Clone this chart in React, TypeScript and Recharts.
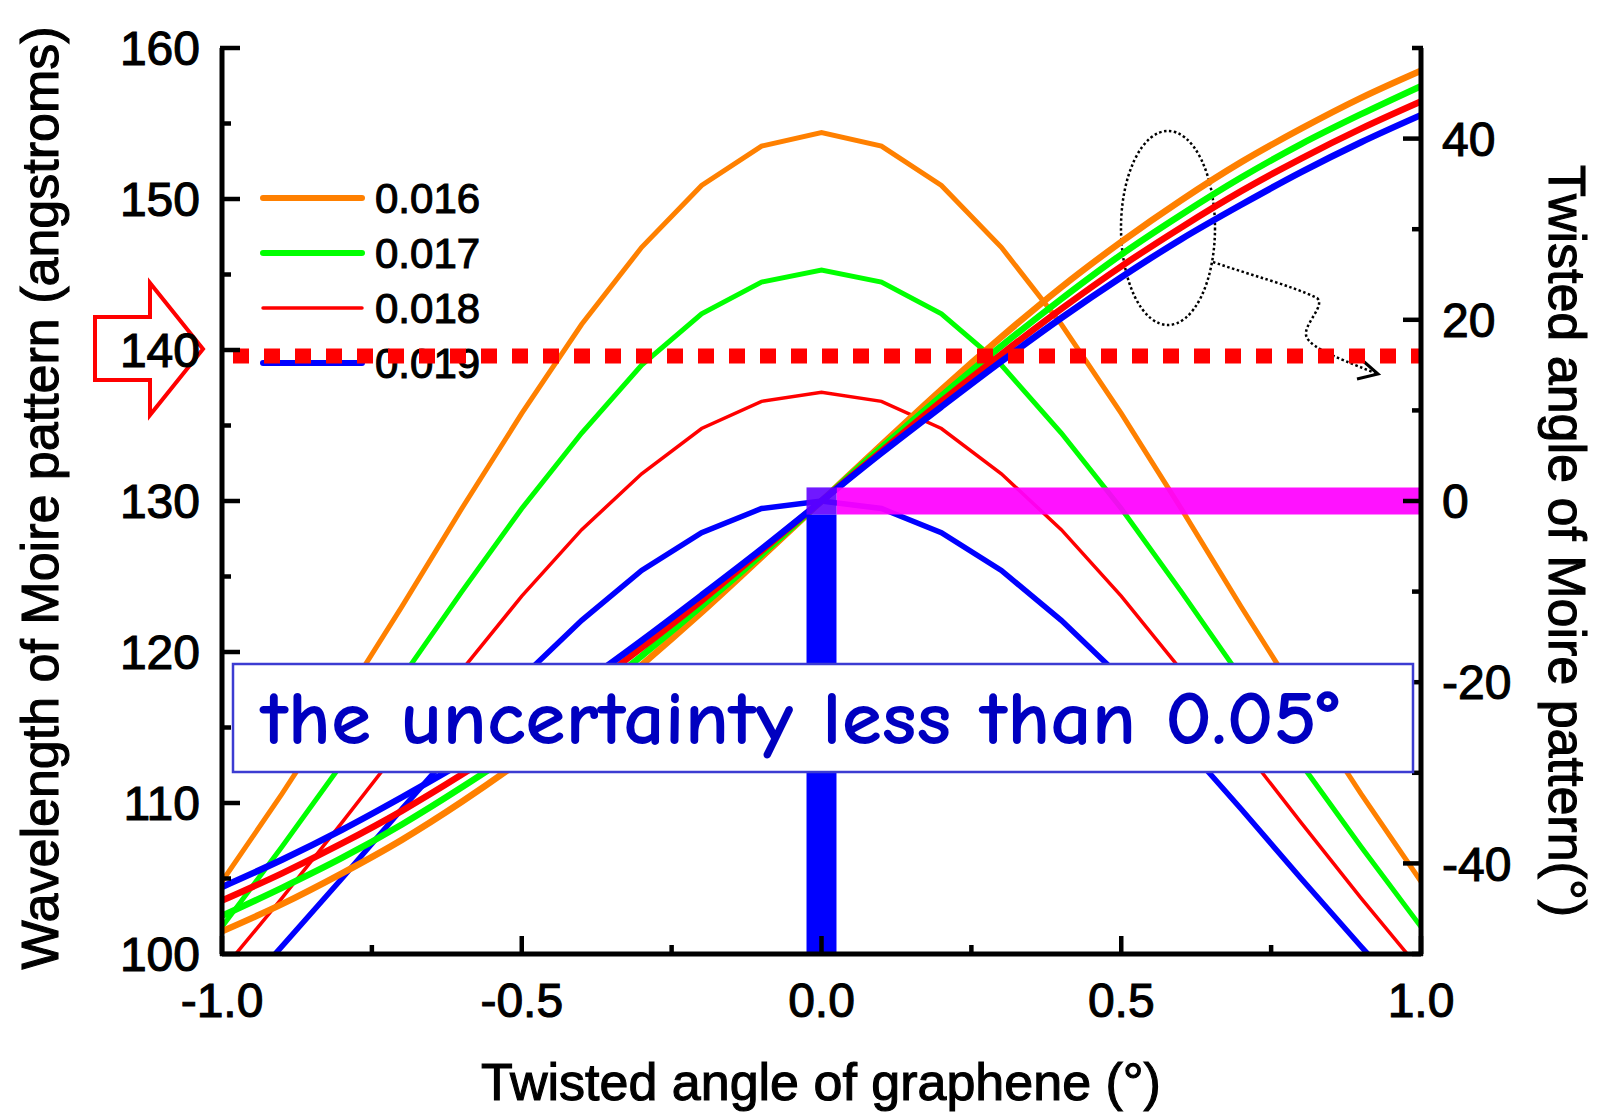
import React from 'react';
import { LineChart, Line, XAxis, YAxis, ReferenceLine, ReferenceArea } from 'recharts';

// twist angle of graphene (deg), sampled every 0.1
const angles = [-1.0, -0.9, -0.8, -0.7, -0.6, -0.5, -0.4, -0.3, -0.2, -0.1, 0, 0.1, 0.2, 0.3, 0.4, 0.5, 0.6, 0.7, 0.8, 0.9, 1.0];

// moire wavelength (angstroms) for each lattice mismatch
const wave016 = [104.8, 110.6, 116.7, 123.0, 129.5, 135.8, 141.7, 146.8, 150.9, 153.5, 154.4, 153.5, 150.9, 146.8, 141.7, 135.8, 129.5, 123.0, 116.7, 110.6, 104.8];
const wave017 = [101.8, 107.1, 112.6, 118.3, 124.0, 129.5, 134.5, 139.0, 142.4, 144.5, 145.3, 144.5, 142.4, 139.0, 134.5, 129.5, 124.0, 118.3, 112.6, 107.1, 101.8];
const wave018 = [98.9, 103.7, 108.7, 113.8, 118.8, 123.7, 128.1, 131.8, 134.8, 136.6, 137.2, 136.6, 134.8, 131.8, 128.1, 123.7, 118.8, 113.8, 108.7, 103.7, 98.9];
const wave019 = [96.1, 100.5, 105.0, 109.6, 114.1, 118.3, 122.1, 125.4, 127.9, 129.5, 130.0, 129.5, 127.9, 125.4, 122.1, 118.3, 114.1, 109.6, 105.0, 100.5, 96.1];

// moire pattern rotation (deg), right axis
const rot016 = [-47.5, -44.5, -41.1, -37.4, -33.2, -28.6, -23.6, -18.1, -12.3, -6.2, 0, 6.2, 12.3, 18.1, 23.6, 28.6, 33.2, 37.4, 41.1, 44.5, 47.5];
const rot017 = [-45.8, -42.7, -39.4, -35.7, -31.6, -27.2, -22.3, -17.1, -11.6, -5.9, 0, 5.9, 11.6, 17.1, 22.3, 27.2, 31.6, 35.7, 39.4, 42.7, 45.8];
const rot018 = [-44.1, -41.1, -37.8, -34.2, -30.2, -25.9, -21.2, -16.2, -11.0, -5.5, 0, 5.5, 11.0, 16.2, 21.2, 25.9, 30.2, 34.2, 37.8, 41.1, 44.1];
const rot019 = [-42.6, -39.6, -36.3, -32.7, -28.9, -24.7, -20.2, -15.4, -10.4, -5.3, 0, 5.3, 10.4, 15.4, 20.2, 24.7, 28.9, 32.7, 36.3, 39.6, 42.6];

const mismatch = ['0.016', '0.017', '0.018', '0.019'];
const colors = ['#ff8000', '#00ff00', '#ff0000', '#0000ff'];
const bellWidths = [5, 5, 3.5, 5.5];

const xTicks = [-1, -0.75, -0.5, -0.25, 0, 0.25, 0.5, 0.75, 1];
const leftTicks = [100, 105, 110, 115, 120, 125, 130, 135, 140, 145, 150, 155, 160];
const rightTicks = [-50, -40, -30, -20, -10, 0, 10, 20, 30, 40, 50];

const targetWavelength = 139.6;
const uncertainty = 0.025;

const rows = angles.map((x, i) => ({
  x,
  w0: wave016[i], w1: wave017[i], w2: wave018[i], w3: wave019[i],
  r0: rot016[i], r1: rot017[i], r2: rot018[i], r3: rot019[i],
}));

const W = 1603;
const H = 1114;
const FONT = "'Liberation Sans', Arial, sans-serif";
const axisStyle = { stroke: '#000', strokeWidth: 5 };
// slightly heavier glyphs than plain regular weight
const ink = { fill: '#000', stroke: '#000', strokeWidth: 1.1, fontFamily: FONT };

const XTick = ({ x, y, payload }: any) => {
  const v = payload.value;
  const major = Math.abs(v * 2 - Math.round(v * 2)) < 1e-6;
  return (
    <g>
      <line x1={x} y1={y} x2={x} y2={y - (major ? 20 : 11)} stroke="#000" strokeWidth={4.5} />
      {major && (
        <text x={x} y={y + 61} textAnchor="middle" fontSize={48} {...ink}>
          {v.toFixed(1)}
        </text>
      )}
    </g>
  );
};

const LeftTick = ({ x, y, payload }: any) => {
  const v = payload.value;
  const major = v % 10 === 0;
  return (
    <g>
      <line x1={x} y1={y} x2={x + (major ? 20 : 11)} y2={y} stroke="#000" strokeWidth={4.5} />
      {major && (
        <text x={x - 20} y={y} dy="0.36em" textAnchor="end" fontSize={48} {...ink}>
          {v}
        </text>
      )}
    </g>
  );
};

const RightTick = ({ x, y, payload }: any) => {
  const v = payload.value;
  const major = v % 20 === 0;
  return (
    <g>
      <line x1={x} y1={y} x2={x - (major ? 20 : 11)} y2={y} stroke="#000" strokeWidth={4.5} />
      {major && (
        <text x={x + 19} y={y} dy="0.36em" textAnchor="start" fontSize={48} {...ink}>
          {v}
        </text>
      )}
    </g>
  );
};

// legend, axis titles and hand-drawn marks sit behind the plot
const BackLayer = () => (
  <svg width={W} height={H} style={{ position: 'absolute', left: 0, top: 0 }}>
    <text transform="translate(58,498) rotate(-90)" textAnchor="middle" fontSize={52} {...ink}>
      Wavelength of Moire pattern (angstroms)
    </text>
    <text transform="translate(1549,541) rotate(90)" textAnchor="middle" fontSize={52} {...ink}>
      Twisted angle of Moire pattern(°)
    </text>
    <text x={821} y={1100} textAnchor="middle" fontSize={52} {...ink}>
      Twisted angle of graphene (°)
    </text>

    {mismatch.map((m, i) => (
      <g key={m}>
        <line x1={263} x2={362} y1={198 + i * 55} y2={198 + i * 55} stroke={colors[i]} strokeWidth={i === 2 ? 3.5 : 6} strokeLinecap="round" />
        <text x={375} y={198 + i * 55} dy="0.36em" fontSize={42} {...ink}>{m}</text>
      </g>
    ))}

    <polygon points="95,317 150,317 150,283 203,349 150,415 150,380 95,380" fill="none" stroke="#ff0000" strokeWidth={4} />

    <ellipse cx={1168} cy={228} rx={47} ry={97} fill="none" stroke="#000" strokeWidth={2.5} strokeDasharray="2.5 2.5" />
    <path d="M1213,262 C1250,275 1290,285 1317,298 C1325,305 1308,320 1306,332 C1304,345 1330,355 1375,373"
      fill="none" stroke="#000" strokeWidth={2.5} strokeDasharray="2.5 2.5" />
    <path d="M1362,360 L1378,374 L1357,379" fill="none" stroke="#000" strokeWidth={3} />
  </svg>
);

const FrontLayer = () => (
  <svg width={W} height={H} style={{ position: 'absolute', left: 0, top: 0, pointerEvents: 'none' }}>
    <rect x={233} y={664} width={1180} height={108} fill="#fff" stroke="#3c3cd2" strokeWidth={2.5} />
    <text x={261} y={744} fontSize={76} fontWeight={600} textLength={1078} lengthAdjust="spacingAndGlyphs"
      fontFamily="'Comic Sans MS', 'Comic Neue', 'Open Sans', sans-serif" fill="#0000c0">
      the uncertainty less than 0.05°
    </text>
  </svg>
);

export default function App() {
  return (
    <div style={{ position: 'absolute', left: 0, top: 0, width: W, height: H, background: '#fff' }}>
      <BackLayer />
      <LineChart width={W} height={H} data={rows} margin={{ top: 48, right: 0, bottom: 0, left: 0 }}>
        <XAxis dataKey="x" type="number" domain={[-1, 1]} ticks={xTicks} interval={0} height={160}
          tickSize={0} tickLine={false} tick={<XTick />} axisLine={axisStyle} allowDataOverflow />
        <YAxis yAxisId="left" type="number" domain={[100, 160]} ticks={leftTicks} interval={0} width={222}
          tickSize={0} tickLine={false} tick={<LeftTick />} axisLine={axisStyle} allowDataOverflow />
        <YAxis yAxisId="right" orientation="right" type="number" domain={[-50, 50]} ticks={rightTicks} interval={0}
          width={182} tickSize={0} tickLine={false} tick={<RightTick />} axisLine={axisStyle} allowDataOverflow />

        {mismatch.map((m, i) => (
          <Line key={`w${i}`} yAxisId="left" type="linear" dataKey={`w${i}`} stroke={colors[i]}
            strokeWidth={bellWidths[i]} dot={false} isAnimationActive={false} />
        ))}
        {mismatch.map((m, i) => (
          <Line key={`r${i}`} yAxisId="right" type="monotone" dataKey={`r${i}`} stroke={colors[i]}
            strokeWidth={6.5} dot={false} isAnimationActive={false} />
        ))}

        <ReferenceArea yAxisId="right" x1={-uncertainty} x2={uncertainty} y1={-50} y2={-1.5}
          fill="#0000ff" fillOpacity={1} stroke="none" ifOverflow="hidden" zIndex={450} />
        <ReferenceArea yAxisId="right" x1={uncertainty} x2={1} y1={-1.5} y2={1.5}
          fill="#ff00ff" fillOpacity={0.93} stroke="none" ifOverflow="hidden" zIndex={450} />
        <ReferenceArea yAxisId="right" x1={-uncertainty} x2={uncertainty} y1={-1.5} y2={1.5}
          fill="#6000ff" fillOpacity={0.9} stroke="none" ifOverflow="hidden" zIndex={450} />
        <ReferenceLine yAxisId="left" y={targetWavelength} stroke="#ff0000" strokeWidth={15}
          strokeDasharray="16 15" strokeDashoffset={-11} zIndex={450} />
      </LineChart>
      <FrontLayer />
    </div>
  );
}
